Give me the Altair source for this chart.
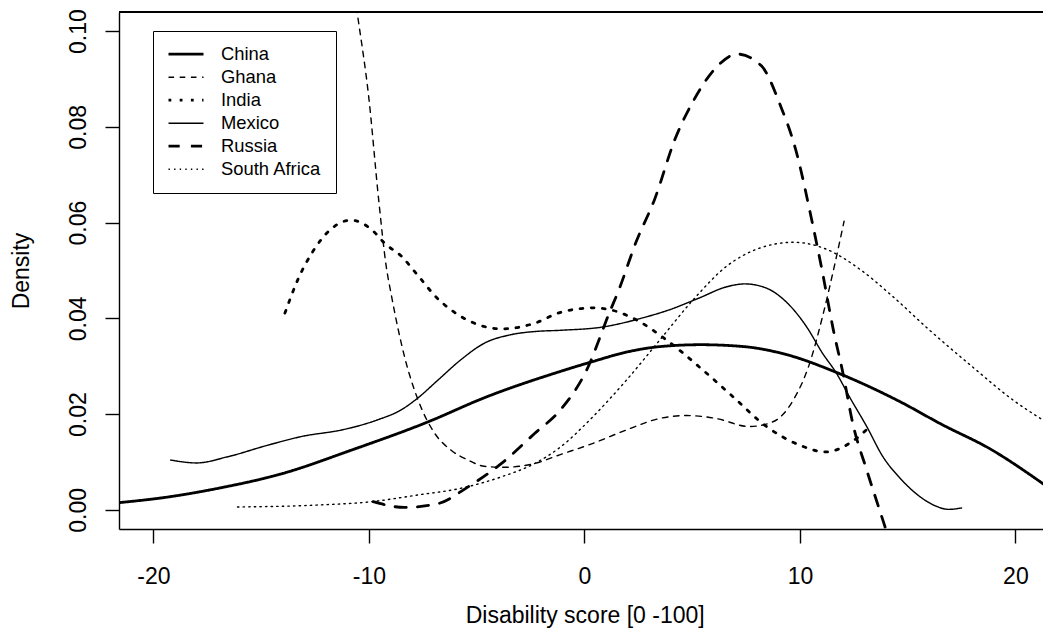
import altair as alt
import pandas as pd

# Kernel density curves of disability score by country
countries = ["China", "Ghana", "India", "Mexico", "Russia", "South Africa"]

china_x = [-21.6, -19.3, -17.0, -14.0, -10.8, -7.3, -4.6, -1.2, 0.4, 2.0, 3.5, 5.4,
           7.4, 9.4, 11.7, 14.6, 16.6, 18.8, 21.3]
china_y = [0.0015, 0.0027, 0.0045, 0.0076, 0.0125, 0.0183, 0.0235, 0.0288, 0.0310,
           0.0330, 0.0341, 0.0345, 0.0341, 0.0324, 0.0287, 0.0227, 0.0178, 0.0128, 0.0054]

ghana_x = [-10.8, -10.55, -10.0, -9.55, -9.2, -8.95, -8.35, -7.75, -6.95, -6.2, -5.4,
           -4.65, -3.7, -2.3, -1.15, 0.4, 1.95, 3.5, 4.75, 6.1, 7.65, 8.75, 9.7, 10.45,
           11.05, 11.7, 12.05]
ghana_y = [0.112, 0.104, 0.0858, 0.0648, 0.0509, 0.0446, 0.0320, 0.0233, 0.0160, 0.0125,
           0.0104, 0.0091, 0.0089, 0.0097, 0.0115, 0.0139, 0.0167, 0.0191, 0.0197, 0.0191,
           0.0174, 0.0184, 0.0230, 0.0306, 0.0404, 0.0530, 0.0603]

india_x = [-13.9, -13.3, -12.6, -11.8, -10.85, -9.7, -9.3, -8.5, -7.7, -6.85, -6.2, -4.65,
           -3.85, -2.3, -1.15, 0.4, 1.2, 2.4, 3.8, 5.5, 6.9, 8.45, 10.0, 11.2, 12.3, 13.25]
india_y = [0.0411, 0.0481, 0.0540, 0.0585, 0.0605, 0.0578, 0.0558, 0.0530, 0.0488, 0.0443,
           0.0418, 0.0383, 0.0378, 0.0390, 0.0412, 0.0422, 0.0418, 0.0397, 0.0355, 0.0292,
           0.0236, 0.0174, 0.0135, 0.0121, 0.0139, 0.0174]

mexico_x = [-19.2, -18.0, -16.55, -14.7, -13.15, -11.15, -9.6, -8.5, -7.75, -6.8, -5.75,
            -4.65, -3.4, -2.15, -1.15, 0.85, 2.7, 3.95, 5.35, 6.6, 7.45, 8.45, 9.35, 10.3,
            11.05, 11.7, 12.3, 13.1, 13.85, 14.65, 15.5, 16.3, 16.9, 17.5]
mexico_y = [0.0104, 0.0098, 0.0111, 0.0135, 0.0153, 0.0168, 0.0188, 0.0209, 0.0233, 0.0271,
            0.0313, 0.0348, 0.0366, 0.0373, 0.0375, 0.0382, 0.0401, 0.0418, 0.0443, 0.0466,
            0.0472, 0.0463, 0.0435, 0.0383, 0.0327, 0.0285, 0.0236, 0.0174, 0.0111, 0.0066,
            0.0030, 0.0008, 0.0001, 0.0004]

russia_x = [-9.8, -8.35, -6.8, -5.4, -3.85, -2.3, -1.15, 0.1, 1.15, 1.6, 2.4, 3.25, 4.2,
            5.1, 6.05, 7.1, 8.2, 9.1, 9.8, 10.55, 11.05, 11.55, 12.0, 12.45, 13.1, 13.7,
            14.0, 14.3]
russia_y = [0.0017, 0.0005, 0.0013, 0.0048, 0.0097, 0.0160, 0.0207, 0.0292, 0.0411, 0.0460,
            0.0560, 0.0648, 0.0774, 0.0858, 0.0921, 0.0952, 0.0928, 0.0844, 0.0753, 0.0605,
            0.0495, 0.0376, 0.0285, 0.0181, 0.0083, -0.0001, -0.0043, -0.0090]

safrica_x = [-16.1, -12.4, -9.9, -7.75, -5.75, -3.85, -2.3, -1.15, 0.4, 1.95, 3.5, 5.05,
             6.6, 8.15, 9.7, 11.25, 12.8, 14.3, 16.0, 18.0, 19.9, 21.3]
safrica_y = [0.0006, 0.0010, 0.0017, 0.0031, 0.0045, 0.0069, 0.0097, 0.0130, 0.0195, 0.0271,
             0.0355, 0.0439, 0.0509, 0.0547, 0.0559, 0.0544, 0.0502, 0.0446, 0.0376, 0.0299,
             0.0229, 0.0187]

x_ticks = [-20, -10, 0, 10, 20]
y_ticks = [0.0, 0.02, 0.04, 0.06, 0.08, 0.10]

series = {
    "China": (china_x, china_y),
    "Ghana": (ghana_x, ghana_y),
    "India": (india_x, india_y),
    "Mexico": (mexico_x, mexico_y),
    "Russia": (russia_x, russia_y),
    "South Africa": (safrica_x, safrica_y),
}
df = pd.concat(
    [pd.DataFrame({"country": name, "score": series[name][0], "density": series[name][1]})
     for name in countries],
    ignore_index=True,
)

# line types: solid, dashed, dotted (thick) / solid, dashed, dotted (thin)
dash_range = [[1, 0], [5.6, 5.6], [2.8, 8.4], [1, 0], [11.2, 11.2], [1.4, 4.2]]
width_range = [2.8, 1.4, 2.8, 1.4, 2.8, 1.4]

FONT = "Liberation Sans"
W, H = 924, 517

legend = alt.Legend(
    orient="none", legendX=34, legendY=19, title=None,
    symbolType="stroke", symbolSize=1225, symbolStrokeColor="black",
    labelFont=FONT, labelFontSize=18.4, labelColor="black", labelOffset=16,
    strokeColor="black", fillColor="white", padding=14, rowPadding=4,
    clipHeight=18.4, cornerRadius=0,
)

x_axis = alt.Axis(
    values=x_ticks, labelExpr="'' + datum.value", grid=False,
    tickSize=14, tickWidth=1.4, tickColor="black",
    domainColor="black", domainWidth=1.4,
    labelFont=FONT, labelFontSize=23, labelColor="black", labelPadding=40,
    labelBaseline="alphabetic", labelAlign="center", labelFlush=False, labelOverlap=False,
    title="Disability score [0 -100]", titleFont=FONT, titleFontSize=23,
    titleFontWeight="normal", titleColor="black",
    titleX=465.7, titleY=93, titleBaseline="alphabetic", titleAlign="center",
)

y_axis = alt.Axis(
    values=y_ticks, format=".2f", grid=False,
    tickSize=14, tickWidth=1.4, tickColor="black",
    domainColor="black", domainWidth=1.4,
    labelFont=FONT, labelFontSize=23, labelColor="black", labelPadding=20,
    labelAngle=270, labelAlign="center", labelBaseline="alphabetic",
    labelFlush=False, labelOverlap=False,
    title="Density", titleFont=FONT, titleFontSize=23, titleFontWeight="normal",
    titleColor="black", titleAngle=270, titleX=-91, titleY=258.5,
    titleBaseline="alphabetic", titleAlign="center",
)

lines = alt.Chart(df).mark_line(
    color="black", clip=True, interpolate="monotone", strokeCap="round", strokeJoin="round"
).encode(
    x=alt.X("score:Q", scale=alt.Scale(domain=[-21.6, 21.28], nice=False, zero=False), axis=x_axis),
    y=alt.Y("density:Q", scale=alt.Scale(domain=[-0.004, 0.104], nice=False, zero=False), axis=y_axis),
    strokeDash=alt.StrokeDash("country:N", scale=alt.Scale(domain=countries, range=dash_range), legend=legend),
    strokeWidth=alt.StrokeWidth("country:N", scale=alt.Scale(type="ordinal", domain=countries, range=width_range), legend=legend),
)

# upper edge of the plot frame
frame_top = alt.Chart(df).mark_rule(color="black", strokeWidth=1.4).encode(
    x=alt.value(0), x2=alt.value(W), y=alt.value(0)
)

chart = alt.layer(lines, frame_top).properties(
    width=W, height=H,
    autosize=alt.AutoSizeParams(type="none"),
    padding={"left": 119, "top": 12, "right": 0, "bottom": 115},
    background="white",
).configure_view(stroke=None)

chart.save("out.html", embed_options={"renderer": "svg", "actions": False})
